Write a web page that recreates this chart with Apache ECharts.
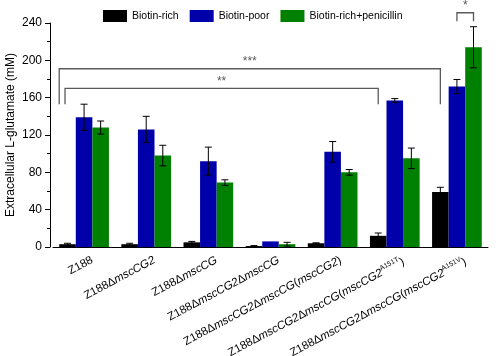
<!DOCTYPE html>
<html><head><meta charset="utf-8">
<script src="https://cdn.jsdelivr.net/npm/echarts@6/dist/echarts.min.js"></script>
<style>html,body{margin:0;padding:0;background:#fff}#c{width:499px;height:356px}</style>
</head><body><div id="c"></div>
<script>
const categories = ['Z188','Z188ΔmscCG2','Z188ΔmscCG','Z188ΔmscCG2ΔmscCG','Z188ΔmscCG2ΔmscCG(mscCG2)','Z188ΔmscCG2ΔmscCG(mscCG2^A151T)','Z188ΔmscCG2ΔmscCG(mscCG2^A151V)'];
const seriesNames = ['Biotin-rich','Biotin-poor','Biotin-rich+penicillin'];
const richVals = [3, 3, 5, 1, 4, 12, 59];
const richErr = [1, 1, 1, 0.5, 0.5, 3, 5];
const poorVals = [139, 126, 92, 6, 102, 157, 172];
const poorErr = [14, 14, 15, 0, 11, 2, 7.5];
const penVals = [128, 98, 69, 3, 80, 95, 214];
const penErr = [7, 11, 3, 2, 3, 11, 22];
const yTicks = [0, 40, 80, 120, 160, 200, 240];
// brackets: [fromCat, fromBar, toCat, toBar, topValue, legBottomValue, label]
const brackets = [[0, -0.5, 6, 0, 191, 153, '***'], [0, -0.15, 5, 0, 170, 153, '**'], [6, 1, 6, 2, 251, 242, '*']];

const colors = ['#000000', '#0000AA', '#008000'];
const vals = [richVals, poorVals, penVals];
const errs = [richErr, poorErr, penErr];

function fmt(s) {
  let out = '';
  const re = /(msc[A-Z0-9]+)|(\^[A-Z0-9]+)|([^\^m]+|m)/g;
  let m;
  while ((m = re.exec(s)) !== null) {
    if (m[1]) out += '{i|' + m[1] + '}';
    else if (m[2]) out += '{s|' + m[2].slice(1) + '}';
    else out += '{n|' + m[3] + '}';
  }
  return out;
}

const errData = [];
for (let k = 0; k < 3; k++) for (let c = 0; c < categories.length; c++) errData.push([c, k, vals[k][c], errs[k][c]]);

const chart = echarts.init(document.getElementById('c'));
const barSeries = seriesNames.map((n, k) => ({
  name: n, type: 'bar', data: vals[k], barGap: 0, barCategoryGap: '20%',
  itemStyle: { color: colors[k] }
}));
chart.setOption({
  animation: false,
  textStyle: { fontFamily: 'Liberation Sans' },
  legend: {
    data: seriesNames, top: 5, left: 98, itemWidth: 24, itemHeight: 12, itemGap: 11,
    textStyle: { fontSize: 10.5, color: '#000' }, icon: 'rect'
  },
  grid: { left: 53, right: 11, top: 23, bottom: 109, containLabel: false, outerBoundsMode: 'none' },
  xAxis: {
    type: 'category', data: categories,
    axisLine: { lineStyle: { color: '#000', width: 1 } },
    axisTick: { alignWithLabel: true, length: 4, lineStyle: { color: '#000' } },
    axisLabel: {
      rotate: 28, margin: 10, color: '#000', fontSize: 11.5, interval: 0,
      verticalAlign: 'top', padding: [0, -6, 0, 0],
      formatter: v => fmt(v),
      rich: {
        n: { fontSize: 11.5, color: '#000' },
        i: { fontSize: 11.5, color: '#000', fontStyle: 'italic' },
        s: { fontSize: 7, color: '#000', verticalAlign: 'top', padding: [0, 0, 8, 0] }
      }
    }
  },
  yAxis: {
    type: 'value', min: 0, max: 240, interval: 40, offset: 3,
    name: 'Extracellular L-glutamate (mM)', nameLocation: 'middle', nameGap: 33, nameMoveOverlap: false,
    nameTextStyle: { fontSize: 12, color: '#000' },
    axisLine: { show: true, lineStyle: { color: '#000' } },
    axisTick: { show: true, length: 5, lineStyle: { color: '#000' } },
    minorTick: { show: true, splitNumber: 2, length: 3, lineStyle: { color: '#000' } },
    splitLine: { show: false },
    axisLabel: { fontSize: 12, color: '#000', margin: 8, formatter: v => yTicks.includes(v) ? String(v) : '' }
  },
  series: barSeries.concat([
    {
      type: 'custom', name: 'err', data: errData, z: 5, encode: { x: 0, y: 2 },
      renderItem: function (params, api) {
        const c = api.value(0), k = api.value(1), v = api.value(2), e = api.value(3);
        if (!e) return null;
        const band = api.size([1, 0])[0];
        const w = band * 0.8 / 3;
        const cx = api.coord([c, v])[0] + (k - 1) * w;
        const yt = api.coord([c, v + e])[1], yb = api.coord([c, Math.max(v - e, 0)])[1];
        const cap = 3.5;
        const st = { stroke: '#000', lineWidth: 1 };
        return { type: 'group', children: [
          { type: 'line', shape: { x1: cx, y1: yt, x2: cx, y2: yb }, style: st },
          { type: 'line', shape: { x1: cx - cap, y1: yt, x2: cx + cap, y2: yt }, style: st },
          { type: 'line', shape: { x1: cx - cap, y1: yb, x2: cx + cap, y2: yb }, style: st }
        ] };
      }
    },
    {
      type: 'custom', name: 'sig', data: brackets, z: 6, encode: { x: 0, y: 4 },
      renderItem: function (params, api) {
        const b = brackets[params.dataIndex];
        const band = api.size([1, 0])[0];
        const w = band * 0.8 / 3;
        const x1 = api.coord([b[0], 0])[0] + (b[1] - 1) * w;
        const x2 = api.coord([b[2], 0])[0] + (b[3] - 1) * w;
        const yt = api.coord([0, b[4]])[1], yb = api.coord([0, b[5]])[1];
        const st = { stroke: '#5a5a5a', lineWidth: 1.3, fill: null };
        return { type: 'group', children: [
          { type: 'polyline', shape: { points: [[x1, yb], [x1, yt], [x2, yt], [x2, yb]] }, style: st },
          { type: 'text', x: (x1 + x2) / 2, y: yt - 1, style: { text: b[6], fill: '#5a5a5a', fontSize: 12, align: 'center', verticalAlign: 'bottom', fontFamily: 'Liberation Sans' } }
        ] };
      }
    }
  ])
});
</script></body></html>
